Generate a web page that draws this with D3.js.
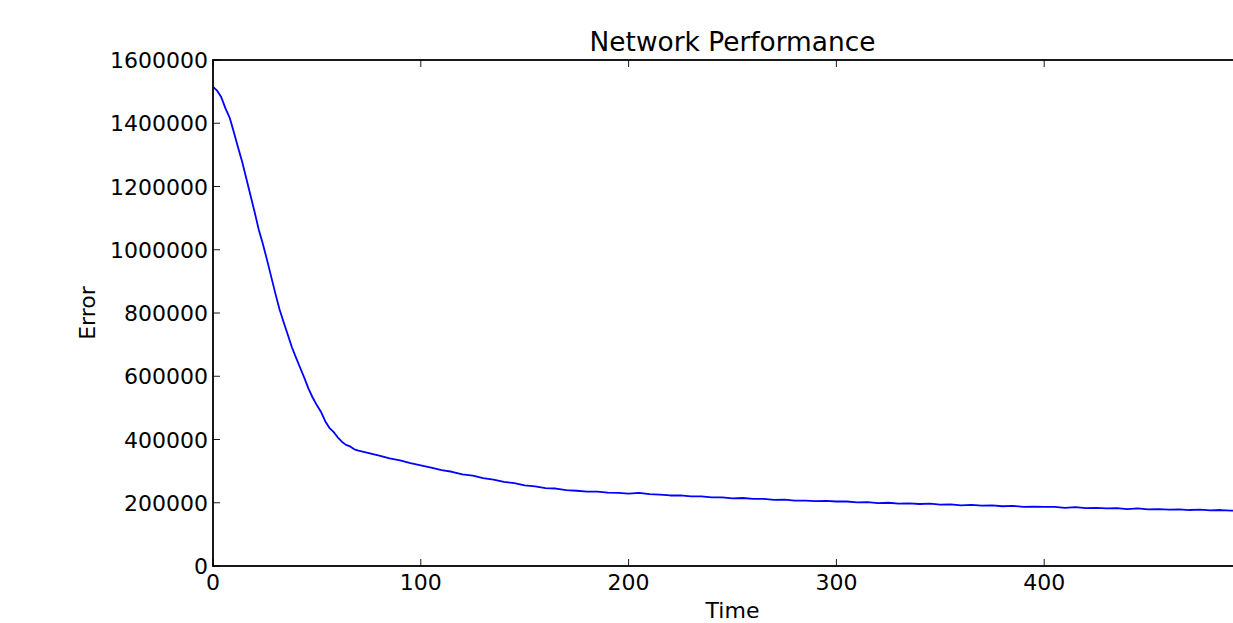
<!DOCTYPE html>
<html>
<head>
<meta charset="utf-8">
<script src="https://cdn.jsdelivr.net/npm/d3@7"></script>
<style>
   body { margin: 0; background: white; }
   text { font-family: "DejaVu Sans", sans-serif; fill: black; }
</style>
</head>
<body>
<div id="chart"></div>
<script>
// epochs and training error
var epochs = [0,2,4,6,8,10,12,14,16,18,20,22,24,26,28,30,32,34,36,38,40,42,44,46,48,50,52,54,56,58,60,62,64,66,68,70,
   75,80,85,90,95,100,105,110,115,120,125,130,135,140,145,150,155,160,165,170,175,180,185,190,195,200,
   205,210,215,220,225,230,235,240,245,250,255,260,265,270,275,280,285,290,295,300,
   305,310,315,320,325,330,335,340,345,350,355,360,365,370,375,380,385,390,395,400,
   405,410,415,420,425,430,435,440,445,450,455,460,465,470,475,480,485,490,495,500]
var errors = [1515000,1503000,1482000,1447000,1418000,1372000,1325000,1279000,1226000,1173000,1120000,1064000,1018000,968000,915000,862000,812000,771000,731000,691000,658000,626000,594000,560000,532000,508000,487000,458000,437000,424000,407000,393000,383000,378000,369000,365000,
   357000,349000,340000,334000,325000,318000,311000,303000,298000,290000,286000,278000,273000,266000,262000,255000,252000,246000,245000,240000,238000,235000,235000,232000,231000,229000,
   231000,227000,226000,223000,223000,220000,220000,217000,217000,214000,215000,212000,212000,209000,210000,207000,207000,205000,206000,204000,
   204000,201000,202000,199000,200000,197000,198000,196000,197000,194000,195000,192000,193000,191000,192000,189000,190000,187000,188000,187000,
   187000,184000,186000,183000,184000,182000,183000,180000,182000,179000,180000,178000,179000,177000,178000,176000,177000,175000,176000,175000]
var xTicks = [0,100,200,300,400,500]
var yTicks = [0,200000,400000,600000,800000,1000000,1200000,1400000,1600000]

var width = 1233
var height = 623
var margin = { left: 213, top: 60, right: 1252, bottom: 566 }

var svg = d3.select("#chart").append("svg")
   .attr("width", width)
   .attr("height", height)

var scaleX = d3.scaleLinear().domain([0, 500]).range([margin.left, margin.right])
var scaleY = d3.scaleLinear().domain([0, 1600000]).range([margin.bottom, margin.top])

// error line
var line = d3.line()
   .x(function(d) { return scaleX(d[0]) })
   .y(function(d) { return scaleY(d[1]) })

svg.append("path")
   .datum(d3.zip(epochs, errors))
   .attr("d", line)
   .attr("fill", "none")
   .attr("stroke", "#0000ff")
   .attr("stroke-width", 1.8)
   .attr("stroke-linejoin", "round")

// inward ticks, matplotlib classic style
var tickLen = 7
var ticks = svg.append("g").attr("stroke", "black").attr("stroke-width", 0.9)

xTicks.forEach(function(t) {
   var x = scaleX(t)
   ticks.append("line").attr("x1", x).attr("x2", x).attr("y1", margin.bottom).attr("y2", margin.bottom - tickLen)
   ticks.append("line").attr("x1", x).attr("x2", x).attr("y1", margin.top).attr("y2", margin.top + tickLen)
})
yTicks.forEach(function(t) {
   var y = scaleY(t)
   ticks.append("line").attr("x1", margin.left).attr("x2", margin.left + tickLen).attr("y1", y).attr("y2", y)
   ticks.append("line").attr("x1", margin.right).attr("x2", margin.right - tickLen).attr("y1", y).attr("y2", y)
})

// frame
svg.append("rect")
   .attr("x", margin.left)
   .attr("y", margin.top)
   .attr("width", margin.right - margin.left)
   .attr("height", margin.bottom - margin.top)
   .attr("fill", "none")
   .attr("stroke", "black")
   .attr("stroke-width", 1.8)

// tick labels (the 500 label falls outside the window in the reference)
svg.selectAll("text.xlab").data(xTicks.filter(function(t) { return scaleX(t) < width - 20 })).enter().append("text")
   .attr("class", "xlab")
   .attr("x", function(d) { return scaleX(d) })
   .attr("y", 590)
   .attr("text-anchor", "middle")
   .attr("font-size", 22)
   .text(function(d) { return d })

svg.selectAll("text.ylab").data(yTicks).enter().append("text")
   .attr("class", "ylab")
   .attr("x", margin.left - 5)
   .attr("y", function(d) { return scaleY(d) + 8 })
   .attr("text-anchor", "end")
   .attr("font-size", 22)
   .text(function(d) { return d })

// titles
svg.append("text")
   .attr("x", (margin.left + margin.right) / 2)
   .attr("y", 51)
   .attr("text-anchor", "middle")
   .attr("font-size", 26.4)
   .text("Network Performance")

svg.append("text")
   .attr("x", (margin.left + margin.right) / 2)
   .attr("y", 618)
   .attr("text-anchor", "middle")
   .attr("font-size", 22)
   .text("Time")

svg.append("text")
   .attr("transform", "translate(95," + ((margin.top + margin.bottom) / 2) + ") rotate(-90)")
   .attr("text-anchor", "middle")
   .attr("font-size", 22)
   .text("Error")
</script>
</body>
</html>
